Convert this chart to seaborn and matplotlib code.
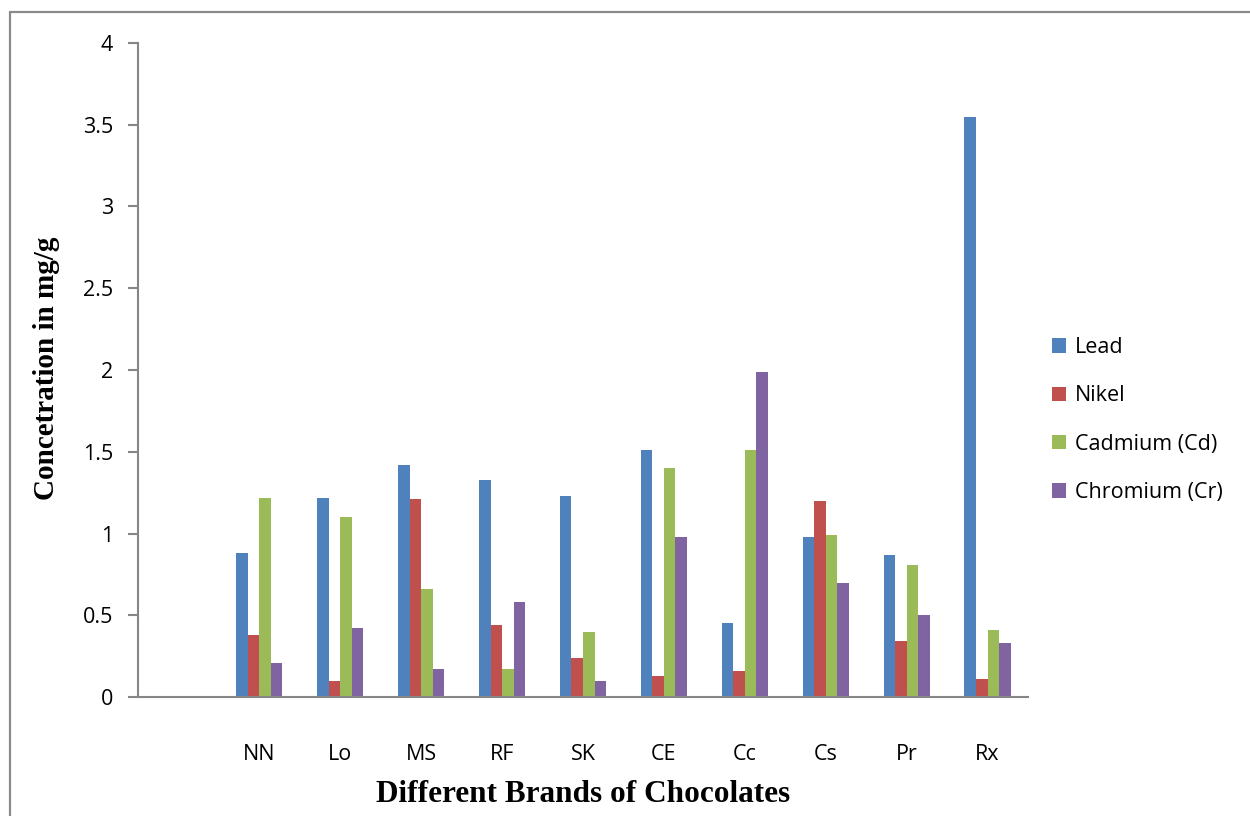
import matplotlib
matplotlib.use("Agg")
import matplotlib.pyplot as plt
import matplotlib.ticker as mticker
from matplotlib.lines import Line2D
import seaborn as sns
import pandas as pd

brands = ["NN", "Lo", "MS", "RF", "SK", "CE", "Cc", "Cs", "Pr", "Rx"]
metals = ["Lead", "Nikel", "Cadmium (Cd)", "Chromium (Cr)"]
lead = [0.88, 1.22, 1.42, 1.33, 1.23, 1.51, 0.45, 0.98, 0.87, 3.55]
nikel = [0.38, 0.10, 1.21, 0.44, 0.24, 0.13, 0.16, 1.20, 0.34, 0.11]
cadmium = [1.22, 1.10, 0.66, 0.17, 0.40, 1.40, 1.51, 0.99, 0.81, 0.41]
chromium = [0.21, 0.42, 0.17, 0.58, 0.10, 0.98, 1.99, 0.70, 0.50, 0.33]
colors = ["#4F81BD", "#C0504D", "#9BBB59", "#8064A2"]
yticks = [0, 0.5, 1, 1.5, 2, 2.5, 3, 3.5, 4]

rows = []
for metal, vals in zip(metals, [lead, nikel, cadmium, chromium]):
    for b, v in zip(brands, vals):
        rows.append({"brand": b, "metal": metal, "value": v})
df = pd.DataFrame(rows)

sns.set_theme(style="white")
plt.rcParams["font.family"] = ["Open Sans", "DejaVu Sans"]
plt.rcParams["text.color"] = "black"
plt.rcParams["axes.labelcolor"] = "black"

W, H = 1250, 816
fig = plt.figure(figsize=(W / 100, H / 100), dpi=100)
ax = fig.add_axes([138 / W, 1 - 697 / H, (1028 - 138) / W, (697 - 43) / H])

sns.barplot(data=df, x="brand", y="value", hue="metal", order=brands,
            hue_order=metals, palette=colors, width=0.57, ax=ax,
            linewidth=0, saturation=1, errorbar=None)

ax.set_xlim(-1.5, len(brands) - 0.5)
ax.set_ylim(0, 4)
ax.set_yticks(yticks)
ax.yaxis.set_major_formatter(mticker.FuncFormatter(lambda v, p: f"{v:g}"))

spine_c = "#868686"
for s in ["top", "right"]:
    ax.spines[s].set_visible(False)
for s in ["left", "bottom"]:
    ax.spines[s].set_color(spine_c)
    ax.spines[s].set_linewidth(1.5)
ax.tick_params(axis="y", which="both", left=True, direction="out", length=7,
               width=1.5, color=spine_c, labelsize=15.5, pad=11, labelcolor="black")
ax.tick_params(axis="x", bottom=False, labelsize=15.5, pad=28, labelcolor="black")
ax.grid(False)

serif = ["Liberation Serif", "DejaVu Serif"]
ax.set_xlabel("Different Brands of Chocolates", fontsize=22.5, fontweight="bold",
              family=serif, color="black")
ax.set_ylabel("Concetration in mg/g", fontsize=21, fontweight="bold",
              family=serif, color="black")
ax.xaxis.set_label_coords((583 - 138) / 890, (697 - 794) / 654)
ax.xaxis.label.set_va("center")
ax.yaxis.set_label_coords((47 - 138) / 890, (697 - 368) / 654)
ax.yaxis.label.set_va("center")

leg = ax.get_legend()
if leg is not None:
    leg.remove()
handles, labels = ax.get_legend_handles_labels()
fig.legend(handles, labels, loc="center left", bbox_to_anchor=(1033 / W, 1 - 420 / H),
           frameon=False, fontsize=15.5, handlelength=0.65, handleheight=0.65,
           handletextpad=0.4, labelspacing=1.27, labelcolor="black")

# outer frame
bc = "#8A8A8A"
fig.add_artist(Line2D([10 / W, 10 / W], [0, 1 - 12 / H], transform=fig.transFigure,
                      color=bc, linewidth=1.6))
fig.add_artist(Line2D([10 / W, 1], [1 - 12 / H, 1 - 12 / H], transform=fig.transFigure,
                      color=bc, linewidth=1.6))

fig.savefig("out.png", dpi=100)
